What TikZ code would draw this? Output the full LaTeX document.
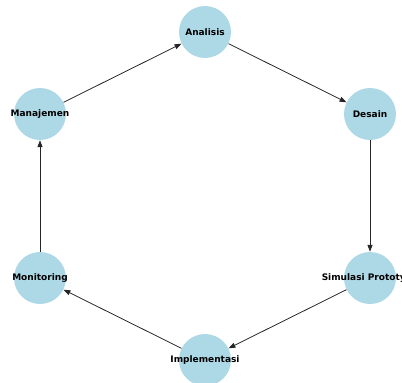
\documentclass[tikz,border=0pt]{standalone}
\usepackage{fontspec}
\setmainfont{DejaVu Sans}
\usetikzlibrary{arrows.meta}
\definecolor{lightblue}{HTML}{ADD8E6}

\newcommand{\lbl}[1]{\makebox[0pt]{#1}}

\begin{document}
\begin{tikzpicture}[x=1pt, y=-1pt,
    every node/.style={circle, fill=lightblue, minimum size=52pt, inner sep=0pt,
        font=\fontsize{9}{10}\selectfont\bfseries},
    flow/.style={draw=black!85, line width=0.8pt, -{Triangle[length=7pt, width=5pt]}}]
    \useasboundingbox (0,0) rectangle (402,383);

    % Nodes
    \node (analisis) at (205,32) {\lbl{Analisis}};
    \node (desain) at (370,114) {\lbl{Desain}};
    \node (simulasi) at (370,278) {\lbl{Simulasi Prototype}};
    \node (implementasi) at (205,360) {\lbl{Implementasi}};
    \node (monitoring) at (40,278) {\lbl{Monitoring}};
    \node (manajemen) at (40,114) {\lbl{Manajemen}};

    % Edges
    \draw[flow] (analisis) -- (desain);
    \draw[flow] (desain) -- (simulasi);
    \draw[flow] (simulasi) -- (implementasi);
    \draw[flow] (implementasi) -- (monitoring);
    \draw[flow] (monitoring) -- (manajemen);
    \draw[flow] (manajemen) -- (analisis);
\end{tikzpicture}
\end{document}
